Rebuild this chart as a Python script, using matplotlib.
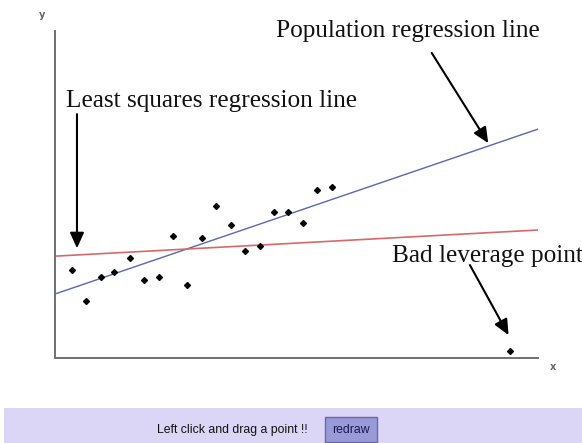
import numpy as np
import matplotlib
matplotlib.use('Agg')
import matplotlib.pyplot as plt
from matplotlib.patches import Rectangle

# scatter points (arbitrary units)
x_pts = [3.5, 6.4, 9.5, 12.3, 15.5, 18.4, 21.5, 24.4, 27.3, 30.4,
         33.3, 36.4, 39.3, 42.5, 45.3, 48.2, 51.3, 54.2, 57.4, 94.1]
y_pts = [18.8, 12.1, 17.3, 18.4, 21.3, 16.7, 17.3, 26.2, 15.6, 25.7,
         32.5, 28.5, 23.0, 24.0, 31.2, 31.2, 28.8, 36.0, 36.7, 1.5]

# lines as (intercept, slope)
population_line = (13.7, 0.353)
least_squares_line = (21.8, 0.056)
line_x = [0, 100]

fig = plt.figure(figsize=(5.82, 4.43), dpi=100)
ax = fig.add_axes([55 / 582, 85 / 443, 483 / 582, 327 / 443])
ax.set_xlim(0, 100)
ax.set_ylim(0, 70)

for s in ['top', 'right']:
    ax.spines[s].set_visible(False)
for s in ['left', 'bottom']:
    ax.spines[s].set_color('#707070')
    ax.spines[s].set_linewidth(1.4)
ax.set_xticks([])
ax.set_yticks([])

xs = np.array(line_x)
ax.plot(xs, population_line[0] + population_line[1] * xs, color='#5868b0', lw=1.0)
ax.plot(xs, least_squares_line[0] + least_squares_line[1] * xs, color='#d86868', lw=1.2)
ax.plot(x_pts, y_pts, 'D', color='black', ms=3.0, ls='none')

serif = dict(family='Liberation Serif', size=18.2, color='#111111', va='baseline')
ax.text(45.8, 68.7, 'Population regression line', **serif)
ax.text(2.3, 53.7, 'Least squares regression line', **serif)
ax.text(69.7, 20.6, 'Bad leverage point', clip_on=False, **serif)

arrow = dict(arrowstyle='-|>,head_length=0.55,head_width=0.25',
             mutation_scale=17, lw=1.5, color='black', shrinkA=0, shrinkB=0)
ax.annotate('', xy=(89.7, 46.0), xytext=(78.0, 65.3), arrowprops=arrow)
ax.annotate('', xy=(4.55, 23.5), xytext=(4.55, 52.2), arrowprops=arrow)
ax.annotate('', xy=(93.9, 4.9), xytext=(85.9, 19.9), arrowprops=arrow)

fig.text(42 / 582, 1 - 15 / 443, 'y', fontsize=7, color='#666666',
         fontweight='bold', ha='center', va='center')
fig.text(553 / 582, 1 - 367 / 443, 'x', fontsize=7, color='#666666',
         fontweight='bold', ha='center', va='center')

# control bar at the bottom
fig.patches.append(Rectangle((4 / 582, 0), 578 / 582, 35 / 443,
                             transform=fig.transFigure, facecolor='#dbd6f5',
                             edgecolor='none'))
fig.text(232 / 582, 1 - 430 / 443, 'Left click and drag a point !!',
         family='Liberation Sans', fontsize=8.8, color='#111111',
         ha='center', va='center')
fig.patches.append(Rectangle((325 / 582, 1 - 442 / 443), 52 / 582, 25 / 443,
                             transform=fig.transFigure, facecolor='#9a9ad8',
                             edgecolor='#6a6aa8', lw=1))
fig.text(351 / 582, 1 - 430 / 443, 'redraw', family='Liberation Sans',
         fontsize=8.8, color='#1a1a50', ha='center', va='center')

fig.savefig('out.png', dpi=100)
